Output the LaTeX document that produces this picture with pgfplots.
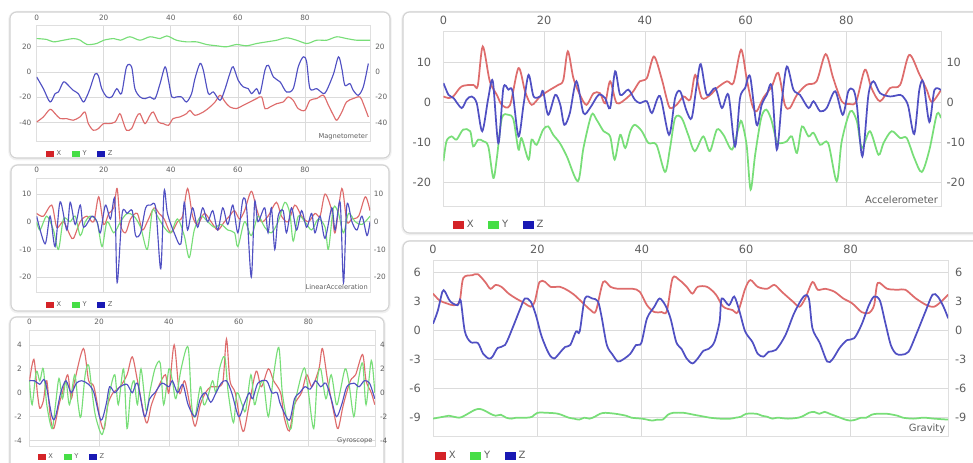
\documentclass[border=0pt]{standalone}
\usepackage{fontspec}
\setmainfont{DejaVu Sans}
\usepackage{pgfplots}
\pgfplotsset{compat=1.18}
\definecolor{lred}{RGB}{222,108,108}
\definecolor{lgreen}{RGB}{120,222,120}
\definecolor{lblue}{RGB}{80,80,195}
\definecolor{sred}{RGB}{212,35,40}
\definecolor{sgreen}{RGB}{70,222,70}
\definecolor{sblue}{RGB}{25,25,180}
\definecolor{tickc}{RGB}{95,95,95}
\pgfplotsset{
  panel/.style={scale only axis, xmin=0, anchor=north west,
    axis line style={draw=gray!25}, grid=major, grid style={draw=gray!28, line width=0.5pt},
    major tick length=0pt, xtick={0,20,40,60,80}, xticklabel pos=right,
    /pgf/number format/assume math mode=true,
    tick label style={text=tickc, inner sep=0pt},
    clip mode=individual,
    legend style={draw=none, fill=none, legend columns=3, anchor=west, text=tickc},
    legend image code/.code={\fill[##1] (0pt,-\legh) rectangle (\legw,\legh);}},
  small/.style={panel, tick label style={font=\fontsize{5.5}{6}\selectfont},
    every axis plot/.append style={no marks, smooth, line width=0.85pt},
    legend style={font=\fontsize{5}{6}\selectfont, /tikz/every even column/.append style={column sep=6pt}}},
  large/.style={panel, tick label style={font=\fontsize{8.5}{10}\selectfont},
    every axis plot/.append style={no marks, smooth, line width=1.3pt},
    legend style={font=\fontsize{7.5}{9}\selectfont, /tikz/every even column/.append style={column sep=9pt}}},
  P1/.style={small, at={(27.5pt,-18.75pt)}, width=250pt, height=87.5pt, xmax=99.4, ymin=-55, ymax=37, ytick={-40,-20,0,20}},
  P2/.style={small, at={(27.5pt,-133.5pt)}, width=250pt, height=85.5pt, xmax=99.4, ymin=-25.4, ymax=15.8, ytick={-20,-10,0,10}},
  P3/.style={small, at={(22pt,-247.5pt)}, width=259.1pt, height=87pt, xmax=99, ymin=-4.46, ymax=5.25, ytick={-4,-2,0,2,4}},
  P4/.style={large, at={(332.6pt,-23.8pt)}, width=373.1pt, height=131.25pt, xmax=98.8, ymin=-26.2, ymax=17.6, ytick={-20,-10,0,10}},
  P5/.style={large, at={(324.75pt,-195pt)}, width=386.4pt, height=132.5pt, xmax=98.7, ymin=-10.96, ymax=7.27, ytick={-9,-6,-3,0,3,6}},
  RL/.style={axis x line=none, axis y line*=right, grid=none, axis line style={draw=none}},
}
\newcommand{\legw}{6pt}
\newcommand{\legh}{2.2pt}
\begin{document}
\begin{tikzpicture}
\path[use as bounding box] (0,0) rectangle (729.75pt,-347.25pt);
% panel boxes
\begin{scope}[rounded corners=5pt]
\draw[gray!12, line width=2.5pt] (7.5pt,-9.5pt) rectangle (292.5pt,-119pt);
\draw[gray!12, line width=2.5pt] (8.25pt,-124.25pt) rectangle (291.75pt,-233.75pt);
\draw[gray!12, line width=2.5pt] (7.5pt,-238.25pt) rectangle (288pt,-353pt);
\draw[gray!12, line width=2.5pt] (302.25pt,-9.5pt) rectangle (740pt,-175.25pt);
\draw[gray!12, line width=2.5pt] (302.25pt,-181.25pt) rectangle (740pt,-356pt);
\draw[gray!35, line width=0.8pt, fill=white] (7.5pt,-9pt) rectangle (292.5pt,-118.5pt);
\draw[gray!35, line width=0.8pt, fill=white] (8.25pt,-123.75pt) rectangle (291.75pt,-233.25pt);
\draw[gray!35, line width=0.8pt, fill=white] (7.5pt,-237.75pt) rectangle (288pt,-352.5pt);
\draw[gray!35, line width=0.8pt, fill=white] (302.25pt,-9pt) rectangle (740pt,-174.75pt);
\draw[gray!35, line width=0.8pt, fill=white] (302.25pt,-180.75pt) rectangle (740pt,-356pt);
\end{scope}

% ---------------- Magnetometer
\begin{axis}[P1, yticklabel style={anchor=east, xshift=-3.75pt}, xticklabel style={anchor=south, yshift=3.2pt},
  legend style={at={(axis description cs:0.015,-0.105)}}]
\addplot[lred, forget plot] coordinates {(0,-39.5)(2,-35.5)(4,-29.5)(5.5,-32.9)(7,-36.8)(8.9,-36.8)(10.9,-38.1)(12.9,-35.5)(14.4,-31.6)(15.4,-40.8)(16.9,-46)(18.4,-44.7)(19.9,-40.8)(21.4,-40.8)(23.4,-39.5)(24.8,-32.9)(25.8,-39.5)(26.8,-46)(28.3,-44.7)(29.8,-35.5)(30.8,-32.9)(32.3,-40.8)(33.8,-34.2)(34.8,-31.6)(36.3,-39.5)(37.8,-40.8)(39.3,-42.1)(40.7,-36.8)(42.7,-35.5)(44.7,-32.9)(45.7,-30.3)(47.2,-34.2)(49.7,-31.6)(51.7,-27.6)(53.2,-23.7)(54.7,-18.4)(56.2,-23.7)(57.6,-27.6)(59.6,-28.9)(61.6,-26.3)(63.6,-23.7)(65.6,-21)(67.1,-19.7)(68.1,-29)(69.6,-27.6)(71.6,-25)(73.5,-23.7)(75,-19.7)(76.5,-22.4)(78,-29)(80,-30.3)(81.5,-22.4)(83.5,-21)(85.5,-18.4)(87,-26.3)(88.5,-34.2)(89.5,-38.1)(91,-31.6)(92.4,-23.7)(94.4,-21)(96.4,-19.7)(97.4,-25)(98.9,-35.5)};
\addplot[lgreen, forget plot] coordinates {(0,26.3)(3,25.6)(5,23.7)(8,25)(11,26.3)(13,25)(15,21.6)(17.9,22.4)(20,25)(23,26.3)(25,25)(27.8,27.7)(30.8,25)(33.8,27.7)(36.8,26.3)(38.8,28.4)(41.7,25)(44.7,23.7)(47.7,23.7)(50.7,21.6)(53.7,20.6)(56.6,19.8)(59.6,21.6)(62.6,20.6)(65.6,22.4)(68.6,23.7)(71.6,25)(74.5,26.9)(77.5,25)(80.6,22.4)(83.5,25)(86.5,25)(89.5,27.7)(92.4,26.3)(95.4,25)(98.4,25)(99.4,25)};
\addplot[lblue, forget plot] coordinates {(0,-4)(2,-13.2)(4,-23.7)(5.5,-17.1)(6.5,-15.8)(8,-7.9)(9.4,-10.5)(10.9,-14.5)(12.4,-17.1)(13.9,-23.7)(14.9,-19.7)(15.9,-13.2)(17.4,-1.7)(18.4,-3)(19.4,-13.2)(20.9,-19.7)(22.4,-19.7)(23.9,-13.2)(25.3,-17.1)(26.8,4)(28.3,4)(29.3,-13.2)(30.8,-19.7)(32.3,-21.1)(33.8,-19.7)(35.3,-21.1)(36.8,-9.2)(38.3,4)(39.3,-6.6)(40.3,-19.7)(41.7,-19.7)(43.2,-19.7)(44.7,-23.7)(46.2,-17.1)(47.2,-5.3)(48.7,6.6)(49.7,1.3)(51.2,-17.1)(52.7,-15.8)(54.7,-22.4)(56.2,-13.2)(57.6,-1.3)(58.6,4)(60.1,-6.6)(61.6,-11.8)(63.1,-13.2)(64.1,-17.1)(65.6,-13.2)(66.6,-17.1)(68.1,1.6)(69.1,5.2)(70.6,-4)(72.6,-7.9)(74.5,-15.8)(76.5,-13.2)(78,4)(79.5,11.9)(80.5,7.9)(81.5,-13.2)(83.5,-13.2)(85.5,-17.1)(86.5,-14.5)(88.5,-1.7)(90,11.9)(91,2.6)(91.9,-10.5)(93.4,-9.2)(94.4,-14.5)(95.9,-18.4)(97.4,-11.8)(98.9,6.6)};
\addlegendimage{fill=sred, draw=none}\addlegendentry{X}
\addlegendimage{fill=sgreen, draw=none}\addlegendentry{Y}
\addlegendimage{fill=sblue, draw=none}\addlegendentry{Z}
\node[anchor=south east, font=\fontsize{5}{6}\selectfont, text=tickc, inner sep=1.5pt] at (rel axis cs:1,0) {Magnetometer};
\end{axis}
\begin{axis}[P1, RL, yticklabel style={anchor=west, xshift=3.75pt}]
\addplot[draw=none] coordinates {(0,0)};
\end{axis}

% ---------------- Linear acceleration
\begin{axis}[P2, yticklabel style={anchor=east, xshift=-3.75pt}, xticklabel style={anchor=south, yshift=4pt},
  legend style={at={(axis description cs:0.015,-0.114)}}]
\addplot[lred, forget plot] coordinates {(0,3)(2,2)(4.5,6)(6,-2)(8,0)(10,-5)(11,-6)(13,0)(15,2)(17,0)(18.5,9)(20,-1)(21.5,3)(23,5)(24,12)(25,-1)(26.5,-4)(28,1)(30,3)(31.5,-3)(33,0)(35,5)(36.5,3)(38,1)(40,-4)(42,0)(43.5,2)(45,12)(46.5,2)(48,-1)(50,3)(52,0)(54,-3)(56,0)(57.5,2)(59,4)(60.5,1)(62,4)(64,11)(65.5,5)(67,0)(69,2)(71.5,7)(73,2)(75,0)(77,6)(79,2)(81,0)(83,3)(84.5,2)(86,10)(88,4)(89,-4)(91,12)(92.5,0)(94,1)(96,2)(98,9)(99.4,4)};
\addplot[lgreen, forget plot] coordinates {(0,0)(1,-3)(3,2)(5,-3)(6.5,-10)(8,1)(10,0)(11.5,2)(13,-5)(14.5,0)(16,2)(18,0)(19.5,-9)(21,0)(23,-4)(25,0)(27,3)(29,2)(31,-2)(33,-10)(34.5,4)(36,2)(38,-2)(40,-4)(42,1)(44,-5)(45.5,-13)(47,-3)(49,2)(51,0)(53,-2)(55,-1)(57,-3)(59,-4)(60,-9)(62,0)(64,-5)(66,2)(68,-2)(70,-4)(72,0)(74,7)(75.5,3)(76.5,-7)(78,2)(80,0)(82,-3)(84,1)(86,-2)(87,-10)(88.5,5)(90,3)(91.5,-4)(93,3)(95,0)(97,-1)(99.4,2)};
\addplot[lblue, forget plot] coordinates {(0,2)(2.5,-8)(4,2)(5.5,-9)(7,7.2)(9,-3)(10,7)(11.5,-1)(13,6)(14,-2)(16.5,2)(18,0)(19,-4)(20.5,6)(22,1)(23.3,8)(24,-22)(25.5,3)(27,3)(28.5,4)(29.5,-5)(31,-4)(32.5,5)(34,6)(35.5,5)(37,-17)(38,11)(39,3)(41,-4)(43,-8)(44,7)(45,-3)(46.5,5)(48,-2)(49.5,5)(51,0)(52.5,4)(54,-3)(55.5,5)(57,-1)(58.5,6)(60,-4)(61.5,8)(62.6,5)(64,-20)(65,7)(66,0)(68,5)(69,-4)(70,5)(71,-10)(72,2)(73.5,4)(74.5,-4)(76,5)(77.5,-3)(79,4)(80.5,-2)(82,3)(83,-4)(84.5,2)(86,-6)(88,5)(89,-3)(90.5,7)(91.5,-22)(92.5,6)(94,0)(95.5,-3)(97,2)(98.5,-5)(99.4,0)};
\addlegendimage{fill=sred, draw=none}\addlegendentry{X}
\addlegendimage{fill=sgreen, draw=none}\addlegendentry{Y}
\addlegendimage{fill=sblue, draw=none}\addlegendentry{Z}
\node[anchor=south east, font=\fontsize{5}{6}\selectfont, text=tickc, inner sep=1.5pt] at (rel axis cs:1,0) {LinearAcceleration};
\end{axis}
\begin{axis}[P2, RL, yticklabel style={anchor=west, xshift=2.7pt}]
\addplot[draw=none] coordinates {(0,0)};
\end{axis}

% ---------------- Gyroscope
\begin{axis}[P3, yticklabel style={anchor=east, xshift=-5.5pt}, xticklabel style={anchor=south, yshift=4.2pt},
  legend style={at={(axis description cs:0.012,-0.092)}}]
\addplot[lred, forget plot] coordinates {(0,0.9)(1.3,2.8)(2.3,0)(3,-1.3)(4,-0.7)(5,1)(6,-2)(7,-3)(8.5,-1)(9.5,0)(11,1.5)(12,-0.5)(13,1)(15.5,3.7)(17,1)(18.5,0.5)(20.5,-2.5)(21.5,-3)(22.5,-1)(24,0)(26,0.5)(28,1.5)(29.5,3)(31,1)(33.5,-2.5)(35,-1)(37,0.5)(39,1.5)(40,0)(41.5,4)(43,0)(44.5,1)(46,-1)(47.5,-2.8)(49,-1)(50.5,0)(52,0.5)(54,0.5)(55.5,1)(56.5,4.5)(57.5,1)(59,0)(60.5,-2.5)(61.5,-3.2)(63,-1)(65,1.8)(66.5,0.5)(68.5,2)(70,1)(72,0)(73,-2)(74.5,-3.2)(76,-1)(78,0)(79.5,1.5)(81,0.5)(83,2)(84,3.7)(85.5,1)(87.5,-2)(88.5,-3)(90,-1)(92,1)(93.5,1.5)(95.5,3.2)(96.5,1)(98,0)(99,-1)};
\addplot[lgreen, forget plot] coordinates {(0,1)(0.8,-1)(2,1.8)(3,1)(4,2)(5,-1)(6.5,-3)(7.5,-1)(8.5,1.2)(9.5,-0.5)(10.5,1)(11.5,-1)(13,1.5)(14,-1)(14.8,-2)(16,1.5)(17,2.3)(18,0)(19,-2)(20.8,-3.5)(22,-2)(23,0)(24.5,1.5)(25.5,-1)(27,2)(28,-3)(29,0)(30,1)(31,-1)(32,2)(33.5,-1.5)(34.5,0)(36,2)(37.5,2.5)(38.5,-1)(40,2)(41,1)(42,-0.5)(43.5,2)(45.5,3.8)(46.5,-1)(47.5,-2)(49,0.5)(50,-1)(51,-0.5)(52.5,1)(53.5,0)(54.5,2)(56,3)(57,0)(58.5,-2.5)(59.5,0)(61,-1)(62,-1.5)(63.5,1.5)(64.5,-1)(65.5,0)(67,1)(68.5,-2)(70,1.5)(71.5,3.8)(72.5,0)(74,-2.5)(75,-3)(76,-1)(78,1.5)(79,2)(80,0)(81.5,-3)(82.5,1)(83.5,2)(85,-0.5)(86.5,1.5)(88,-1)(89,0)(90.5,2)(91.5,1)(93,-2)(94,0.5)(95.5,2.5)(96.5,-1)(98,2.7)(99,0)};
\addplot[lblue, forget plot] coordinates {(0,1)(1.5,1)(3,0.7)(4.5,1)(6.5,-2)(7.5,-2)(9,0)(10.5,1)(12,0)(13.5,0.8)(15,1)(17,0.7)(18.5,0)(20.5,-2.3)(22,-1)(23,0.5)(24.5,0)(26,0.5)(28,0.7)(29.5,0)(31,0.8)(33,-2)(34.5,-0.5)(36,0)(38,0.8)(40,0.5)(41,1)(42.5,0)(44,0.7)(45.5,-1)(47.5,-2)(49,-0.5)(50.5,0)(52,-0.8)(53.5,0)(55,0.8)(56.5,1)(58,0)(60,-2)(61.5,-1)(63,0)(64,-0.5)(65.5,0.8)(68,1)(69.5,0)(71,0)(72,-1)(74.5,-2.3)(76,-0.5)(77.5,0)(79,0.5)(80.5,0.3)(82,1)(83.5,0.5)(85,0.8)(86.5,-0.5)(88,-2)(89.5,-1)(91,0.5)(93,0.8)(94.5,0.5)(96,1)(97.5,0.8)(99,-0.5)};
\addlegendimage{fill=sred, draw=none}\addlegendentry{X}
\addlegendimage{fill=sgreen, draw=none}\addlegendentry{Y}
\addlegendimage{fill=sblue, draw=none}\addlegendentry{Z}
\node[anchor=south east, font=\fontsize{5}{6}\selectfont, text=tickc, inner sep=1.5pt] at (rel axis cs:1,0) {Gyroscope};
\end{axis}
\begin{axis}[P3, RL, yticklabel style={anchor=west, xshift=3.75pt}]
\addplot[draw=none] coordinates {(0,0)};
\end{axis}

% ---------------- Accelerometer
\renewcommand{\legw}{8.25pt}
\renewcommand{\legh}{3pt}
\begin{axis}[P4, yticklabel style={anchor=east, xshift=-9pt}, xticklabel style={anchor=south, yshift=5pt},
  legend style={at={(axis description cs:0.011,-0.105)}}]
\addplot[lred, forget plot] coordinates {(0,1.4)(1,1)(2,1.5)(3.6,3.9)(5.9,4.3)(6.8,4)(7.8,13.9)(9.2,5.2)(10.6,1.8)(11.6,-0.7)(13.2,-0.8)(14.9,8.5)(16.2,2.7)(17.5,-0.7)(19.2,1.4)(21.2,3.1)(22.8,4.3)(23.8,5.5)(24.7,12.7)(25.8,6)(27.1,1.8)(28.4,-0.7)(29.8,2.2)(31.1,2.2)(32.1,-0.3)(33.1,5.2)(34.4,-0.25)(36.4,1)(37.7,2.7)(39,5.2)(40.4,6)(41.8,11.4)(43.3,6)(44.3,1)(45,-1.5)(46.3,-0.7)(47.7,1.4)(49,0.6)(50,6.8)(51.3,1)(53,1.8)(54.3,3.5)(56.3,5.2)(57.6,4.8)(59.1,13.1)(60.2,6)(61.3,-0.7)(62.2,-2.3)(63.5,1)(65.2,3.9)(66.5,7.3)(67.8,-0.7)(68.8,-1.5)(70.2,1.8)(72.1,4.3)(74.1,5.2)(75.9,12)(77.4,6)(79.1,0.2)(80.7,-0.5)(82,0.2)(83.7,8.1)(85,3.5)(86.7,0.2)(88.7,3.5)(90.7,4.3)(92.5,11.8)(94.5,7)(96,3)(97,0)(98.8,3)};
\addplot[lgreen, forget plot] coordinates {(0,-14.8)(0.6,-9.8)(1.6,-8.6)(2.6,-9.4)(3.9,-6.9)(5.3,-7.3)(5.9,-11.1)(6.9,-9.4)(7.9,-9.8)(8.9,-11.1)(9.9,-19)(10.6,-14)(11.6,-4)(12.9,-3.2)(13.9,-4.4)(14.9,-11.9)(15.5,-9)(16.9,-14.4)(17.5,-9.4)(18.5,-10.7)(19.8,-6.9)(20.8,-6.1)(21.8,-8.2)(23.1,-10.25)(24.5,-13.6)(26.7,-19.8)(27.8,-11.5)(29.4,-3.2)(30.4,-4.4)(31.8,-7.3)(33.1,-8.6)(34,-14.4)(35.1,-8.2)(36.1,-11.5)(37.1,-7.3)(38,-5.7)(39.4,-7.3)(40.7,-10.25)(42.3,-10.7)(44,-17.5)(45,-11.5)(46,-4)(47.3,-4)(48.6,-8.2)(49.9,-12.3)(51.6,-8.6)(52.9,-12.3)(54.3,-6.9)(55.6,-8.2)(57.3,-11.9)(58.6,-6.5)(59.2,-4.8)(60.2,-10.7)(61,-21.9)(61.9,-13.2)(63.1,-4)(64.1,-1.9)(65.1,-4.4)(66.2,-9.8)(67.3,-10.25)(68.2,-9.8)(69.2,-8.6)(70.2,-12.75)(71.2,-6.1)(72.5,-8.6)(73.5,-7.7)(74.8,-10.7)(76.4,-10.25)(78.1,-19.8)(79.1,-9.8)(80.8,-2.3)(82.1,-4.8)(83.1,-11.5)(84.7,-7.3)(86.4,-13.2)(87.4,-10.25)(89,-7.3)(90.7,-9)(92,-9)(93.5,-14)(95,-17.5)(96.5,-12)(98,-3)(98.8,-4)};
\addplot[lblue, forget plot] coordinates {(0,4.75)(1,1.8)(2,1)(3.6,-1.5)(4.6,0.6)(5.6,1.4)(6.6,-0.25)(7.7,-7.3)(8.9,1)(9.8,5.2)(10.9,-10.3)(11.9,3.5)(12.9,3.1)(13.7,2.7)(14.9,-8.6)(15.9,-0.7)(16.9,6.8)(17.9,1.4)(19.2,1.4)(19.8,2.7)(20.8,-3.2)(22.2,1.8)(23.2,-0.7)(24,-5.7)(25.1,-2.75)(26.4,5.2)(27.8,-2.75)(29.1,-1.5)(30.8,1.8)(32.1,1)(33.1,-1.5)(34.1,7.7)(35.1,1.8)(36.7,3.1)(38,0.6)(39,-0.25)(40.4,0.2)(41.4,-2.75)(43,1.5)(44.8,-8.2)(46,1)(47,2.7)(48.3,-2.3)(49.3,-4)(50.3,4.3)(51.1,9.5)(52.3,1.8)(54,3.5)(55.3,-1.5)(56.6,1.8)(57.9,-11.1)(58.9,1)(59.9,3.5)(60.9,6.4)(62.2,-5.7)(63.2,-0.7)(64.2,1.8)(65.2,3.9)(66.2,-11.9)(67.2,0.2)(68.2,8.9)(69.5,3.1)(70.8,1.8)(72.5,-1.5)(73.5,0.2)(74.8,-2.3)(76.1,-1.5)(77.8,2.7)(79.3,-3.2)(80.4,2.7)(81.4,3.1)(82.1,-0.7)(83.2,-13.6)(84.4,1.8)(85.4,5.2)(86.7,2.25)(88.7,1.4)(90.7,1.8)(91.5,1)(92.3,-1)(93.5,-8)(94.5,3)(95.3,5)(96.5,-5)(97.5,3)(98.8,3)};
\addlegendimage{fill=sred, draw=none}\addlegendentry{X}
\addlegendimage{fill=sgreen, draw=none}\addlegendentry{Y}
\addlegendimage{fill=sblue, draw=none}\addlegendentry{Z}
\node[anchor=south east, font=\fontsize{7.5}{9}\selectfont, text=tickc, inner sep=2pt] at (rel axis cs:1,0) {Accelerometer};
\end{axis}
\begin{axis}[P4, RL, yticklabel style={anchor=west, xshift=4pt}]
\addplot[draw=none] coordinates {(0,0)};
\end{axis}

% ---------------- Gravity
\begin{axis}[P5, yticklabel style={anchor=east, xshift=-9pt}, xticklabel style={anchor=south, yshift=4.4pt},
  legend style={at={(axis description cs:-0.004,-0.108)}}]
\addplot[lred, forget plot] coordinates {(0,3.8)(1.25,3.1)(2.6,2.8)(4,2.6)(5.1,3)(5.8,5.4)(7.5,5.7)(8.6,5.8)(10,5)(11,4.3)(12,4.7)(13.1,4.5)(14.5,3.8)(15.9,3.3)(17.6,2.8)(18.7,2.45)(19.5,3)(20.4,5)(21.5,5)(22.5,4.5)(24.3,4.5)(25.6,4.2)(27,3.7)(28.4,3)(30.2,2.1)(31.2,2)(32.6,5)(34,4.5)(35.4,4.3)(38.2,4.3)(39.6,4)(41,2.6)(42.4,1.9)(43.8,1.9)(44.8,2)(45.9,5.4)(47.2,5.2)(48.6,4.5)(49.7,3.8)(50.7,4.5)(52.5,4.5)(54.2,3.7)(55.6,2.45)(57.4,2.1)(58.4,1.9)(59.8,4.3)(60.8,5.2)(62.2,4.5)(64,4.3)(65.4,4.7)(66.8,4)(68.9,3)(70.2,2.45)(71.3,3.3)(72.7,5)(73.7,4.2)(75.1,4.3)(76.9,4)(78.6,3.3)(80.3,2.8)(82.1,1.9)(83.5,1.8)(84.5,2.6)(85.2,4.9)(87,4.3)(89.1,4.2)(90.5,4.2)(92.5,3.3)(94.6,2.6)(96,2.45)(97.4,3)(98.7,3.7)};
\addplot[lgreen, forget plot] coordinates {(0,-9.1)(2,-8.9)(3,-8.8)(5,-9.0)(6,-8.8)(8,-8.2)(9,-8.1)(10,-8.3)(11,-8.6)(12,-8.8)(13,-8.7)(14,-9.0)(15,-9.1)(16,-9.0)(18,-9.0)(19,-8.9)(20,-8.5)(22,-8.5)(24,-8.6)(26,-9.0)(27,-9.1)(28,-9.2)(29,-9.0)(30,-9.1)(31,-8.9)(32,-8.6)(33,-8.5)(35,-8.6)(37,-8.8)(38,-9.0)(40,-9.1)(41,-9.2)(42,-9.3)(43,-9.2)(44,-9.2)(45,-8.7)(46,-8.5)(48,-8.5)(50,-8.7)(52,-8.9)(53,-9.0)(55,-9.1)(57,-9.1)(58,-9.0)(59,-8.9)(60,-8.6)(62,-8.6)(63,-8.8)(64,-8.9)(65,-9.1)(66,-9.0)(68,-9.1)(70,-9.0)(71,-8.8)(72,-8.5)(73,-8.4)(74,-8.6)(75,-8.4)(76,-8.6)(77,-8.8)(78,-9.0)(79,-9.2)(80,-9.3)(81,-9.2)(82,-9.0)(83,-9.0)(84,-8.7)(85,-8.6)(87,-8.6)(89,-8.8)(90,-9.0)(92,-9.1)(94,-9.0)(96,-9.1)(98.7,-9.2)};
\addplot[lblue, forget plot] coordinates {(0,0.7)(0.9,2)(1.8,4)(2.3,4)(3.3,3)(4.7,2.6)(5.3,3.1)(6.1,-0.1)(7.2,-1.2)(8.6,-1.3)(9.6,-2.4)(10.7,-2.9)(11.4,-2.7)(12.4,-1.8)(13.8,-1.5)(15.2,0.2)(16.6,2.1)(17.6,3.3)(18.7,3)(19.7,1.6)(20.8,-0.6)(22.2,-2.4)(23.2,-2.9)(24.3,-2.3)(25.3,-1.7)(26.3,-1.5)(27.4,-0.1)(28.1,-0.1)(29.1,3.3)(30.5,3.3)(31.6,3)(32.3,1.4)(33.3,-1.5)(34.4,-2.5)(35.4,-3.2)(36.4,-3)(37.8,-2.4)(38.9,-1.5)(39.9,-1.3)(41,1.25)(42.4,2.45)(43.4,3.3)(44.5,2.6)(45.5,1.25)(46.6,-1.2)(47.6,-1.9)(48.6,-2.9)(49.7,-3.4)(50.7,-2.9)(51.8,-2.1)(52.8,-1.9)(53.9,-1.2)(54.9,0.9)(55.3,3.3)(56.7,2.6)(57.7,3.5)(58.7,2)(59.8,-0.1)(61.2,-1.2)(62.2,-2.4)(63.3,-2.7)(64.3,-2.2)(65.7,-2)(67.5,-0.5)(69.2,1.8)(71,3.5)(72,3.3)(72.7,0.2)(74.1,-1.3)(75.5,-3.2)(76.5,-3)(77.9,-1.8)(79.3,-1)(80.7,-0.8)(82.1,0.6)(83.5,2.6)(84.5,3.5)(85.6,3.1)(86.6,0.9)(87.7,-1.5)(88.7,-2.4)(89.8,-2.5)(91.1,-2.2)(92.5,-0.5)(94.3,1.9)(95.7,3.7)(96.7,3.5)(97.8,2.45)(98.7,1.25)};
\addlegendimage{fill=sred, draw=none}\addlegendentry{X}
\addlegendimage{fill=sgreen, draw=none}\addlegendentry{Y}
\addlegendimage{fill=sblue, draw=none}\addlegendentry{Z}
\node[anchor=south east, font=\fontsize{7.5}{9}\selectfont, text=tickc, inner sep=2pt] at (rel axis cs:1,0) {Gravity};
\end{axis}
\begin{axis}[P5, RL, yticklabel style={anchor=west, xshift=5pt}]
\addplot[draw=none] coordinates {(0,0)};
\end{axis}
\end{tikzpicture}
\end{document}
